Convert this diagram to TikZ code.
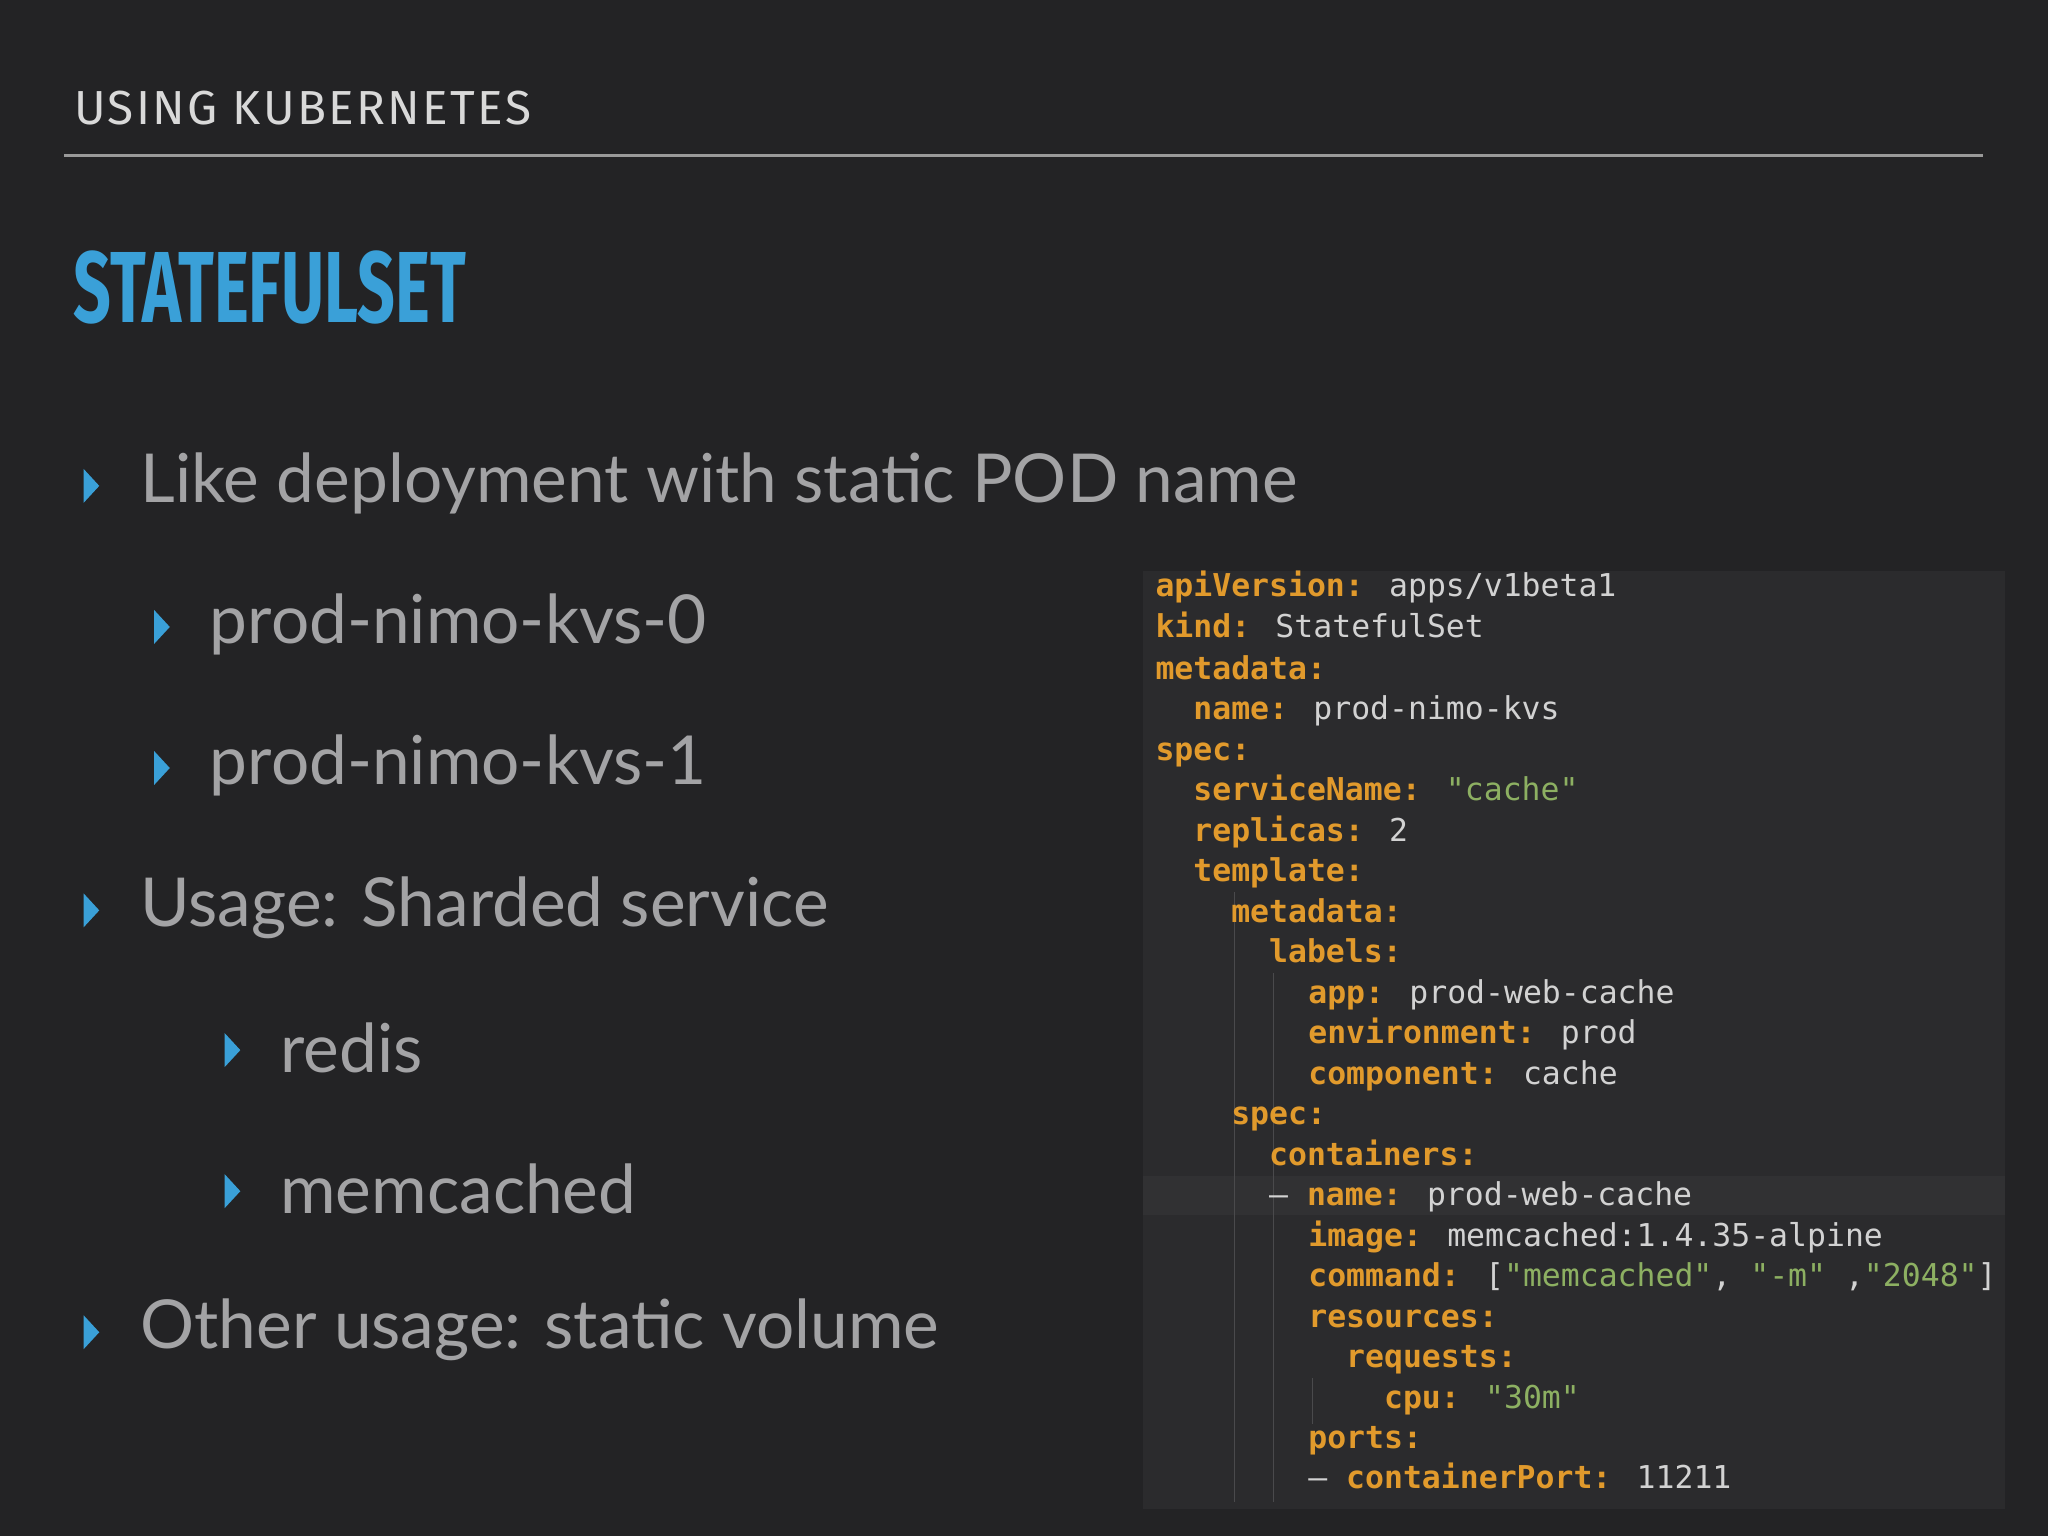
\documentclass[tikz,border=0pt]{standalone}
\usepackage{fontspec}
\setmainfont{Lato}
\newfontfamily\codefont{DejaVu Sans Mono}
\newfontfamily\headfont{Fira Sans}
\definecolor{bg}{HTML}{232325}
\definecolor{panel}{HTML}{2B2B2D}
\definecolor{hl}{HTML}{313133}
\definecolor{bul}{HTML}{3AA0D8}
\definecolor{txt}{HTML}{A3A3A5}
\definecolor{kk}{HTML}{E19A2C}
\definecolor{vv}{HTML}{D2D2D2}
\definecolor{ss}{HTML}{8DB062}
\definecolor{guide}{HTML}{4A4A4C}
\tikzset{
  btext/.style={anchor=west,text=txt,inner sep=0pt,font=\fontsize{14.7}{17}\selectfont},
  code/.style={anchor=base west,inner sep=0pt,text=vv,font=\codefont\fontsize{6.85}{8}\selectfont,yshift=-0.08cm},
}
\newcommand{\K}[1]{\textcolor{kk}{\bfseries #1}}
\newcommand{\Sv}[1]{\textcolor{ss}{#1}}
\newcommand{\tri}[2]{\fill[bul] (#1-6,#2-13) -- (#1+6,#2) -- (#1-6,#2+13) -- cycle;}
\begin{document}
\begin{tikzpicture}[x=0.01cm,y=-0.01cm]
\fill[bg] (0,0) rectangle (1568,1176);
\useasboundingbox (0,0) rectangle (1568,1176);
\node[anchor=west,text=vv!85,inner sep=0pt,font=\headfont\fontsize{10.4}{12}\selectfont] (hdr) at (56,83) {\addfontfeature{LetterSpace=5}USING KUBERNETES};
\draw[line width=0.8pt,gray!80] (49,119) -- (1518,119);
\node[anchor=west,text=bul,inner sep=0pt,font=\headfont\bfseries\fontsize{22}{24}\selectfont,xscale=0.655,transform shape] (title) at (56,220) {STATEFULSET};
% bullets
\tri{70}{372}\node[btext] (b1) at (107,370) {Like deployment with static POD name};
\tri{124}{480}\node[btext] (b2) at (160,478) {prod-nimo-kvs-0};
\tri{124}{588}\node[btext] (b3) at (160,586) {prod-nimo-kvs-1};
\tri{70}{697}\node[btext] (b4) at (107,695) {Usage: Sharded service};
\tri{178}{804}\node[btext] (b5) at (214,802) {redis};
\tri{178}{912}\node[btext] (b6) at (214,910) {memcached};
\tri{70}{1020}\node[btext] (b7) at (107,1018) {Other usage: static volume};
% code panel
\fill[panel] (875,437) rectangle (1535,1155);
\fill[hl] (875,900) rectangle (1535,930);
\foreach \x/\a/\b in {945/683/1150,975/745/1150,1005/1055/1090}{\draw[guide,line width=0.3pt] (\x,\a) -- (\x,\b);}
\node[code] (c0) at (884,449) {\K{apiVersion:} apps/v1beta1};
\node[code] (c1) at (884,480) {\K{kind:} StatefulSet};
\node[code] (c2) at (884,512) {\K{metadata:}};
\node[code] (c3) at (913,543) {\K{name:} prod-nimo-kvs};
\node[code] (c4) at (884,574) {\K{spec:}};
\node[code] (c5) at (913,605) {\K{serviceName:} \Sv{"cache"}};
\node[code] (c6) at (913,636) {\K{replicas:} 2};
\node[code] (c7) at (913,667) {\K{template:}};
\node[code] (c8) at (942,698) {\K{metadata:}};
\node[code] (c9) at (971,729) {\K{labels:}};
\node[code] (c10) at (1001,760) {\K{app:} prod-web-cache};
\node[code] (c11) at (1001,791) {\K{environment:} prod};
\node[code] (c12) at (1001,822) {\K{component:} cache};
\node[code] (c13) at (942,853) {\K{spec:}};
\node[code] (c14) at (971,884) {\K{containers:}};
\node[code] (c15) at (971,915) {\textendash\ \K{name:} prod-web-cache};
\node[code] (c16) at (1001,946) {\K{image:} memcached:1.4.35-alpine};
\node[code] (c17) at (1001,977) {\K{command:} [\Sv{"memcached"}, \Sv{"-m"} ,\Sv{"2048"}]};
\node[code] (c18) at (1001,1008) {\K{resources:}};
\node[code] (c19) at (1030,1039) {\K{requests:}};
\node[code] (c20) at (1059,1070) {\K{cpu:} \Sv{"30m"}};
\node[code] (c21) at (1001,1101) {\K{ports:}};
\node[code] (c22) at (1001,1132) {\textendash\ \K{containerPort:} 11211};
\end{tikzpicture}
\end{document}
